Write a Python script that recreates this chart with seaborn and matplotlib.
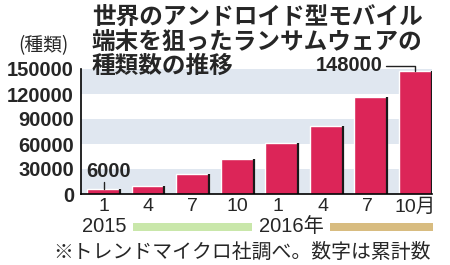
import matplotlib
matplotlib.use("Agg")
import matplotlib.pyplot as plt
import seaborn as sns
import pandas as pd

# ---- data ----
months = ["1", "4", "7", "10", "1 ", "4 ", "7 ", "10月"]
counts = [6000, 9500, 23500, 42000, 61500, 82000, 116500, 148000]
yticks = [0, 30000, 60000, 90000, 120000, 150000]
years = ["2015", "2016年"]
title_lines = ["世界のアンドロイド型モバイル", "端末を狙ったランサムウェアの", "種類数の推移"]
unit_label = "(種類)"
note = "※トレンドマイクロ社調べ。数字は累計数"
first_label = "6000"
last_label = "148000"

sns.set_theme(style="white")
FAM = ["Liberation Sans", "Noto Sans CJK JP", "DejaVu Sans"]
CJK = ["Noto Sans CJK JP", "DejaVu Sans"]
plt.rcParams["font.family"] = FAM

BAR = "#DC2558"
BAND = "#E0E7F0"

W, H = 450, 265
fig = plt.figure(figsize=(W / 100, H / 100), dpi=100)
fig.patch.set_facecolor("white")

def px(x, y):
    return x / W, 1 - y / H

L, R, T, B = 81, 432, 69, 194
ax = fig.add_axes([L / W, 1 - B / H, (R - L) / W, (B - T) / H])

df = pd.DataFrame({"month": months, "count": counts})
sns.barplot(data=df, x="month", y="count", color=BAR, width=0.74,
            saturation=1, ax=ax, zorder=3)
bars = list(ax.patches)

ax.set_ylim(0, 150000)
ax.set_xlim(-0.506, 7.38)

# alternating bands
for i in range(0, len(yticks) - 1, 2):
    ax.axhspan(yticks[i], yticks[i + 1], color=BAND, zorder=0, lw=0)

# dark right edge on bars
for p in bars:
    xr = p.get_x() + p.get_width()
    ax.plot([xr, xr], [0, p.get_height()], color="#1a1a1a", lw=1.6, zorder=4,
            solid_capstyle="butt")

ax.set_yticks(yticks)
ax.set_yticklabels([str(v) for v in yticks], fontsize=14.5, fontweight="bold",
                   family=FAM)
ax.tick_params(axis="y", direction="out", length=3, width=1, color="black", pad=2)
ax.tick_params(axis="x", length=0, pad=3)
for lab in ax.get_xticklabels():
    lab.set_fontsize(14)
    lab.set_family(FAM)
ax.set_xlabel("")
ax.set_ylabel("")
for s in ["top", "right"]:
    ax.spines[s].set_visible(False)
for s in ["left", "bottom"]:
    ax.spines[s].set_visible(True)
    ax.spines[s].set_color("black")
    ax.spines[s].set_linewidth(1.2)
ax.spines["bottom"].set_zorder(5)

# annotations
p0 = bars[0]
x0 = p0.get_x() + p0.get_width() / 2
ax.plot([x0, x0], [counts[0], counts[0] + 9000], color="#222", lw=1, zorder=5)
ax.text(p0.get_x() - 0.02, counts[0] + 9500, first_label, fontsize=14.5,
        fontweight="bold", ha="left", va="bottom", family=FAM, zorder=6)

pl = bars[-1]
xl = pl.get_x() + pl.get_width() * 0.5
ax.plot([xl - 0.65, xl, xl], [counts[-1] + 6000, counts[-1] + 6000, counts[-1]],
        color="#222", lw=1, zorder=5, clip_on=False)
ax.text(xl - 0.72, counts[-1] + 6000, last_label, fontsize=14.5,
        fontweight="bold", ha="right", va="center", family=FAM, zorder=6)

# title
for i, line in enumerate(title_lines):
    fig.text(*px(92, 17 + i * 24.5), line, fontsize=17, fontweight="bold",
             ha="left", va="center", family=CJK)

fig.text(*px(43, 46), unit_label, fontsize=13.5, ha="center", va="center",
         family=CJK)

# year row
fig.text(*px(104, 227), years[0], fontsize=14.5, ha="center", va="center", family=FAM)
fig.text(*px(291, 227), years[1], fontsize=14.5, ha="center", va="center", family=FAM)
fig.patches.append(plt.Rectangle(px(133, 231), 119 / W, 8 / H,
                                 transform=fig.transFigure, color="#C9E7AA", lw=0))
fig.patches.append(plt.Rectangle(px(330, 231), 103 / W, 8 / H,
                                 transform=fig.transFigure, color="#D8BC80", lw=0))

fig.text(*px(242, 252), note, fontsize=14.3, ha="center", va="center", family=CJK)

fig.savefig("out.png", dpi=100, facecolor="white")
